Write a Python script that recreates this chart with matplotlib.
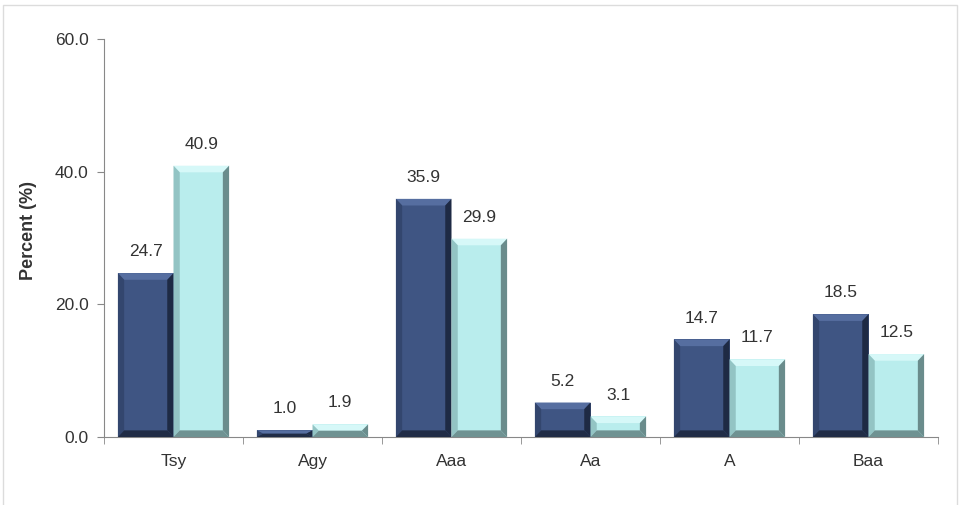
import matplotlib.pyplot as plt
from matplotlib.patches import Polygon, Rectangle

categories = ['Tsy', 'Agy', 'Aaa', 'Aa', 'A', 'Baa']
series_a = [24.7, 1.0, 35.9, 5.2, 14.7, 18.5]
series_b = [40.9, 1.9, 29.9, 3.1, 11.7, 12.5]
y_ticks = [0.0, 20.0, 40.0, 60.0]

plt.rcParams['font.family'] = ['Liberation Sans', 'DejaVu Sans']

# face, top, left, right, bottom
dark = ['#3F5583', '#566EA0', '#33466E', '#1E2A44', '#202C46']
light = ['#B9EDED', '#D6F8F8', '#93C4C4', '#6A8C8C', '#6F9292']

fig = plt.figure(figsize=(9.61, 5.05), dpi=100)
# light frame round the chart (bottom edge falls outside the picture)
fig.patches.append(Rectangle((0.003, -0.02), 0.993, 1.01, transform=fig.transFigure,
                             fill=False, edgecolor='#dcdcdc', linewidth=1))
ax = fig.add_axes([104 / 961, 68 / 505, 834 / 961, 398 / 505])

w = 0.4
bx = 0.045  # bevel width in x (data units)
by = 1.0    # bevel height in y (data units)


def bevel_bar(x0, h, cols):
    ax.bar(x0, h, width=w, align='edge', color=cols[0], linewidth=0, zorder=2)
    x1 = x0 + w
    d = min(by, h / 2)
    parts = [
        ([(x0, h), (x1, h), (x1 - bx, h - d), (x0 + bx, h - d)], cols[1]),
        ([(x0, 0), (x0, h), (x0 + bx, h - d), (x0 + bx, d)], cols[2]),
        ([(x1, 0), (x1, h), (x1 - bx, h - d), (x1 - bx, d)], cols[3]),
        ([(x0, 0), (x1, 0), (x1 - bx, d), (x0 + bx, d)], cols[4]),
    ]
    for pts, c in parts:
        ax.add_patch(Polygon(pts, closed=True, facecolor=c, edgecolor='none', zorder=3))
    ax.text(x0 + w / 2, h + 2.1, f'{h:.1f}', ha='center', va='bottom',
            fontsize=12.5, color='#333333', zorder=4)


for i in range(len(categories)):
    bevel_bar(i - w, series_a[i], dark)
    bevel_bar(i, series_b[i], light)

ax.set_xlim(-0.5, len(categories) - 0.5)
ax.set_ylim(0, 60)
ax.set_yticks(y_ticks)
ax.set_yticklabels([f'{v:.1f}' for v in y_ticks])
ax.set_xticks(range(len(categories)))
ax.set_xticklabels(categories)
ax.set_xticks([i - 0.5 for i in range(len(categories) + 1)], minor=True)
ax.tick_params(axis='x', which='major', length=0, pad=12, labelsize=12.5, colors='#333333')
ax.tick_params(axis='x', which='minor', length=5, direction='out', color='#888888')
ax.tick_params(axis='y', length=5, direction='out', color='#888888', labelsize=12.5,
               labelcolor='#333333', pad=6)
for s in ['top', 'right']:
    ax.spines[s].set_visible(False)
for s in ['left', 'bottom']:
    ax.spines[s].set_color('#888888')
ax.set_ylabel('Percent (%)', fontsize=13, fontweight='bold', color='#333333')
ax.yaxis.set_label_coords(-0.08, 0.52)

fig.savefig('out.png', dpi=100)
